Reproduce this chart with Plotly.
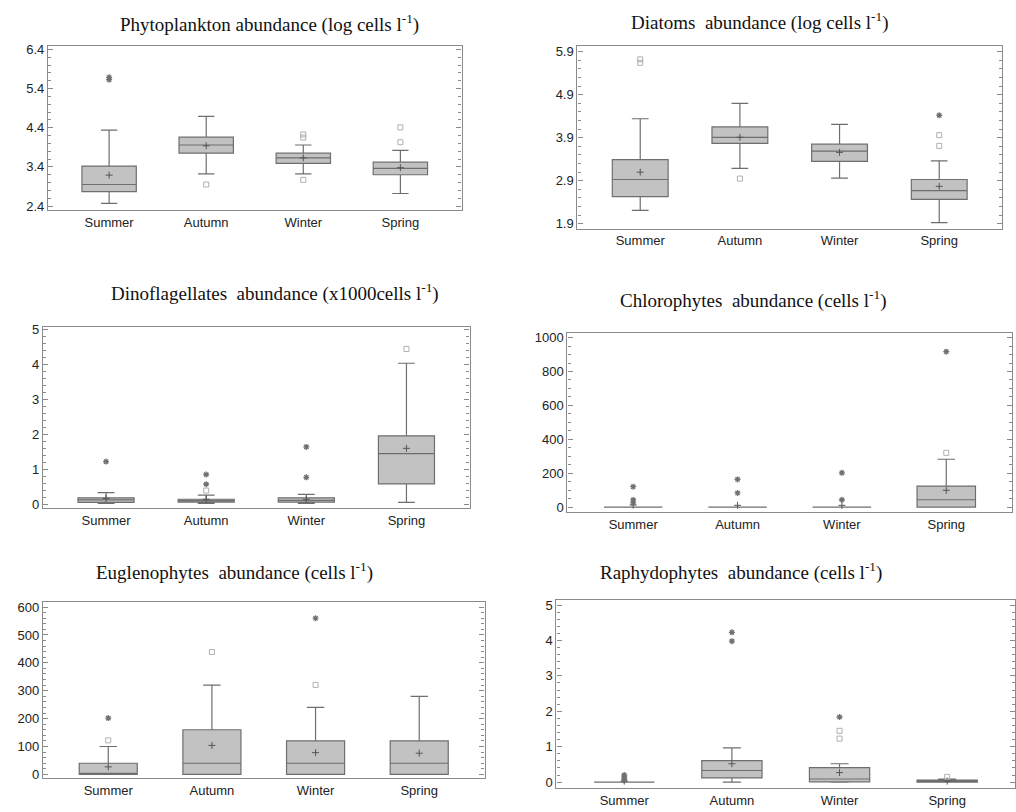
import plotly.graph_objects as go

W, H = 1016, 812
seasons = ["Summer", "Autumn", "Winter", "Spring"]

# ---- Phytoplankton (log cells l-1)
phyto_q1 = [2.77, 3.75, 3.49, 3.20]
phyto_med = [2.95, 3.96, 3.63, 3.36]
phyto_q3 = [3.42, 4.16, 3.75, 3.52]
phyto_lo = [2.47, 3.22, 3.22, 2.72]
phyto_hi = [4.34, 4.69, 3.96, 3.82]
phyto_mean = [3.19, 3.94, 3.63, 3.38]
phyto_sq_x = ["Autumn", "Winter", "Winter", "Winter", "Spring", "Spring"]
phyto_sq_y = [2.95, 4.23, 4.15, 3.07, 4.41, 4.03]
phyto_st_x = ["Summer", "Summer"]
phyto_st_y = [5.69, 5.63]

# ---- Diatoms (log cells l-1)
diat_q1 = [2.53, 3.77, 3.35, 2.47]
diat_med = [2.93, 3.91, 3.59, 2.67]
diat_q3 = [3.39, 4.15, 3.75, 2.93]
diat_lo = [2.21, 3.19, 2.96, 1.93]
diat_hi = [4.34, 4.70, 4.21, 3.36]
diat_mean = [3.10, 3.91, 3.56, 2.77]
diat_sq_x = ["Summer", "Summer", "Autumn", "Spring", "Spring"]
diat_sq_y = [5.72, 5.64, 2.95, 3.96, 3.71]
diat_st_x = ["Spring"]
diat_st_y = [4.42]

# ---- Dinoflagellates (x1000 cells l-1)
dino_q1 = [0.05, 0.06, 0.06, 0.58]
dino_med = [0.12, 0.10, 0.11, 1.45]
dino_q3 = [0.18, 0.14, 0.18, 1.96]
dino_lo = [0.02, 0.02, 0.02, 0.05]
dino_hi = [0.33, 0.26, 0.28, 4.04]
dino_mean = [0.16, 0.14, 0.14, 1.60]
dino_sq_x = ["Autumn", "Spring"]
dino_sq_y = [0.39, 4.45]
dino_st_x = ["Summer", "Autumn", "Autumn", "Winter", "Winter"]
dino_st_y = [1.22, 0.85, 0.57, 1.64, 0.77]

# ---- Chlorophytes (cells l-1)
chlo_q1 = [0, 0, 0, 0]
chlo_med = [0, 0, 0, 43]
chlo_q3 = [0, 0, 0, 124]
chlo_lo = [0, 0, 0, 0]
chlo_hi = [0, 0, 0, 282]
chlo_mean = [12, 10, 10, 99]
chlo_sq_x = ["Spring"]
chlo_sq_y = [320]
chlo_st_x = ["Summer", "Summer", "Summer", "Autumn", "Autumn", "Winter", "Winter", "Spring"]
chlo_st_y = [120, 42, 25, 163, 83, 202, 43, 917]

# ---- Euglenophytes (cells l-1)
eugl_q1 = [0, 0, 0, 0]
eugl_med = [0, 40, 40, 40]
eugl_q3 = [40, 160, 120, 120]
eugl_lo = [0, 0, 0, 0]
eugl_hi = [100, 320, 240, 280]
eugl_mean = [27, 104, 78, 76]
eugl_sq_x = ["Summer", "Autumn", "Winter"]
eugl_sq_y = [122, 439, 321]
eugl_st_x = ["Summer", "Winter"]
eugl_st_y = [202, 560]

# ---- Raphydophytes (cells l-1)
raph_q1 = [0, 0.12, 0.01, 0.0]
raph_med = [0, 0.33, 0.09, 0.03]
raph_q3 = [0, 0.61, 0.41, 0.06]
raph_lo = [0, 0, 0, 0]
raph_hi = [0, 0.97, 0.52, 0.09]
raph_mean = [0.03, 0.52, 0.27, 0.03]
raph_sq_x = ["Winter", "Winter", "Spring"]
raph_sq_y = [1.45, 1.23, 0.15]
raph_st_x = ["Summer", "Summer", "Summer", "Summer", "Autumn", "Autumn", "Winter"]
raph_st_y = [0.20, 0.15, 0.09, 0.05, 4.23, 3.98, 1.84]

titles = [
    "Phytoplankton abundance (log cells l<sup>-1</sup>)",
    "Diatoms\u00a0 abundance (log cells l<sup>-1</sup>)",
    "Dinoflagellates\u00a0 abundance (x1000cells l<sup>-1</sup>)",
    "Chlorophytes\u00a0 abundance (cells l<sup>-1</sup>)",
    "Euglenophytes\u00a0 abundance (cells l<sup>-1</sup>)",
    "Raphydophytes\u00a0 abundance (cells l<sup>-1</sup>)",
]

panels = [
    dict(q1=phyto_q1, med=phyto_med, q3=phyto_q3, lo=phyto_lo, hi=phyto_hi, mean=phyto_mean,
         sqx=phyto_sq_x, sqy=phyto_sq_y, stx=phyto_st_x, sty=phyto_st_y,
         box=(48, 462, 42, 208), yr=[2.3, 6.5], t0=2.4, dt=1, mdt=0.2, fmt=".1f", tpos=(270, 20)),
    dict(q1=diat_q1, med=diat_med, q3=diat_q3, lo=diat_lo, hi=diat_hi, mean=diat_mean,
         sqx=diat_sq_x, sqy=diat_sq_y, stx=diat_st_x, sty=diat_st_y,
         box=(578, 1003, 42, 227), yr=[1.785, 6.04], t0=1.9, dt=1, mdt=0.2, fmt=".1f", tpos=(760, 18)),
    dict(q1=dino_q1, med=dino_med, q3=dino_q3, lo=dino_lo, hi=dino_hi, mean=dino_mean,
         sqx=dino_sq_x, sqy=dino_sq_y, stx=dino_st_x, sty=dino_st_y,
         box=(43, 470, 326, 509), yr=[-0.11, 5.085], t0=0, dt=1, mdt=0.2, fmt="d", tpos=(275, 291)),
    dict(q1=chlo_q1, med=chlo_med, q3=chlo_q3, lo=chlo_lo, hi=chlo_hi, mean=chlo_mean,
         sqx=chlo_sq_x, sqy=chlo_sq_y, stx=chlo_st_x, sty=chlo_st_y,
         box=(568, 1013, 332, 513), yr=[-29, 1029], t0=0, dt=200, mdt=50, fmt="d", tpos=(754, 298)),
    dict(q1=eugl_q1, med=eugl_med, q3=eugl_q3, lo=eugl_lo, hi=eugl_hi, mean=eugl_mean,
         sqx=eugl_sq_x, sqy=eugl_sq_y, stx=eugl_st_x, sty=eugl_st_y,
         box=(43, 485, 604, 782), yr=[-14, 618], t0=0, dt=100, mdt=20, fmt="d", tpos=(235, 573)),
    dict(q1=raph_q1, med=raph_med, q3=raph_q3, lo=raph_lo, hi=raph_hi, mean=raph_mean,
         sqx=raph_sq_x, sqy=raph_sq_y, stx=raph_st_x, sty=raph_st_y,
         box=(557, 1016, 602, 792), yr=[-0.17, 5.14], t0=0, dt=1, mdt=0.2, fmt="d", tpos=(742, 573)),
]

FRAME = "#8a8a8a"
fig = go.Figure()
layout = dict(width=W, height=H, margin=dict(l=0, r=0, t=0, b=0),
              paper_bgcolor="white", plot_bgcolor="white", showlegend=False,
              boxgap=0.2, annotations=[])

for i, p in enumerate(panels):
    n = i + 1
    xa = "x" if n == 1 else f"x{n}"
    ya = "y" if n == 1 else f"y{n}"
    fig.add_trace(go.Box(
        x=seasons, q1=p["q1"], median=p["med"], q3=p["q3"],
        lowerfence=p["lo"], upperfence=p["hi"],
        fillcolor="#c2c2c2", line=dict(color="#6e6e6e", width=1.2),
        whiskerwidth=0.3, boxpoints=False, xaxis=xa, yaxis=ya, hoverinfo="skip"))
    fig.add_trace(go.Scatter(
        x=seasons, y=p["mean"], mode="markers", xaxis=xa, yaxis=ya,
        marker=dict(symbol="cross-thin-open", size=5, color="#555555",
                    line=dict(color="#555555", width=1))))
    fig.add_trace(go.Scatter(
        x=p["sqx"], y=p["sqy"], mode="markers", xaxis=xa, yaxis=ya,
        marker=dict(symbol="square-open", size=5, color="#b0b0b0",
                    line=dict(color="#b0b0b0", width=1))))
    fig.add_trace(go.Scatter(
        x=p["stx"], y=p["sty"], mode="markers", xaxis=xa, yaxis=ya,
        marker=dict(symbol="asterisk-open", size=5, color="#707070",
                    line=dict(color="#707070", width=1.3))))

    l, r, t, b = p["box"]
    xkey = "xaxis" if n == 1 else f"xaxis{n}"
    ykey = "yaxis" if n == 1 else f"yaxis{n}"
    layout[xkey] = dict(domain=[l / W, r / W], anchor=ya, type="category",
                        categoryorder="array", categoryarray=seasons,
                        range=[-0.63, 3.63], showline=True, linecolor=FRAME, linewidth=1.2,
                        mirror=True, ticks="", showgrid=False, zeroline=False,
                        tickfont=dict(family="Arial, Liberation Sans", size=13, color="#222222"))
    layout[ykey] = dict(domain=[1 - b / H, 1 - t / H], anchor=xa, range=p["yr"],
                        tick0=p["t0"], dtick=p["dt"], tickformat=p["fmt"],
                        showline=True, linecolor=FRAME, linewidth=1.2, mirror="ticks",
                        ticks="inside", ticklen=5, tickcolor=FRAME,
                        minor=dict(ticks="inside", ticklen=3, dtick=p["mdt"], tick0=p["t0"],
                                   tickcolor=FRAME, showgrid=False),
                        showgrid=False, zeroline=False,
                        tickfont=dict(family="Arial, Liberation Sans", size=13, color="#222222"))
    tx, ty = p["tpos"]
    layout["annotations"].append(dict(
        text=titles[i], x=tx / W, y=1 - ty / H, xref="paper", yref="paper",
        xanchor="center", yanchor="middle", showarrow=False,
        font=dict(family="Liberation Serif, Times New Roman, serif", size=19, color="#111111")))

fig.update_layout(**layout)
fig.write_html("out.html")
